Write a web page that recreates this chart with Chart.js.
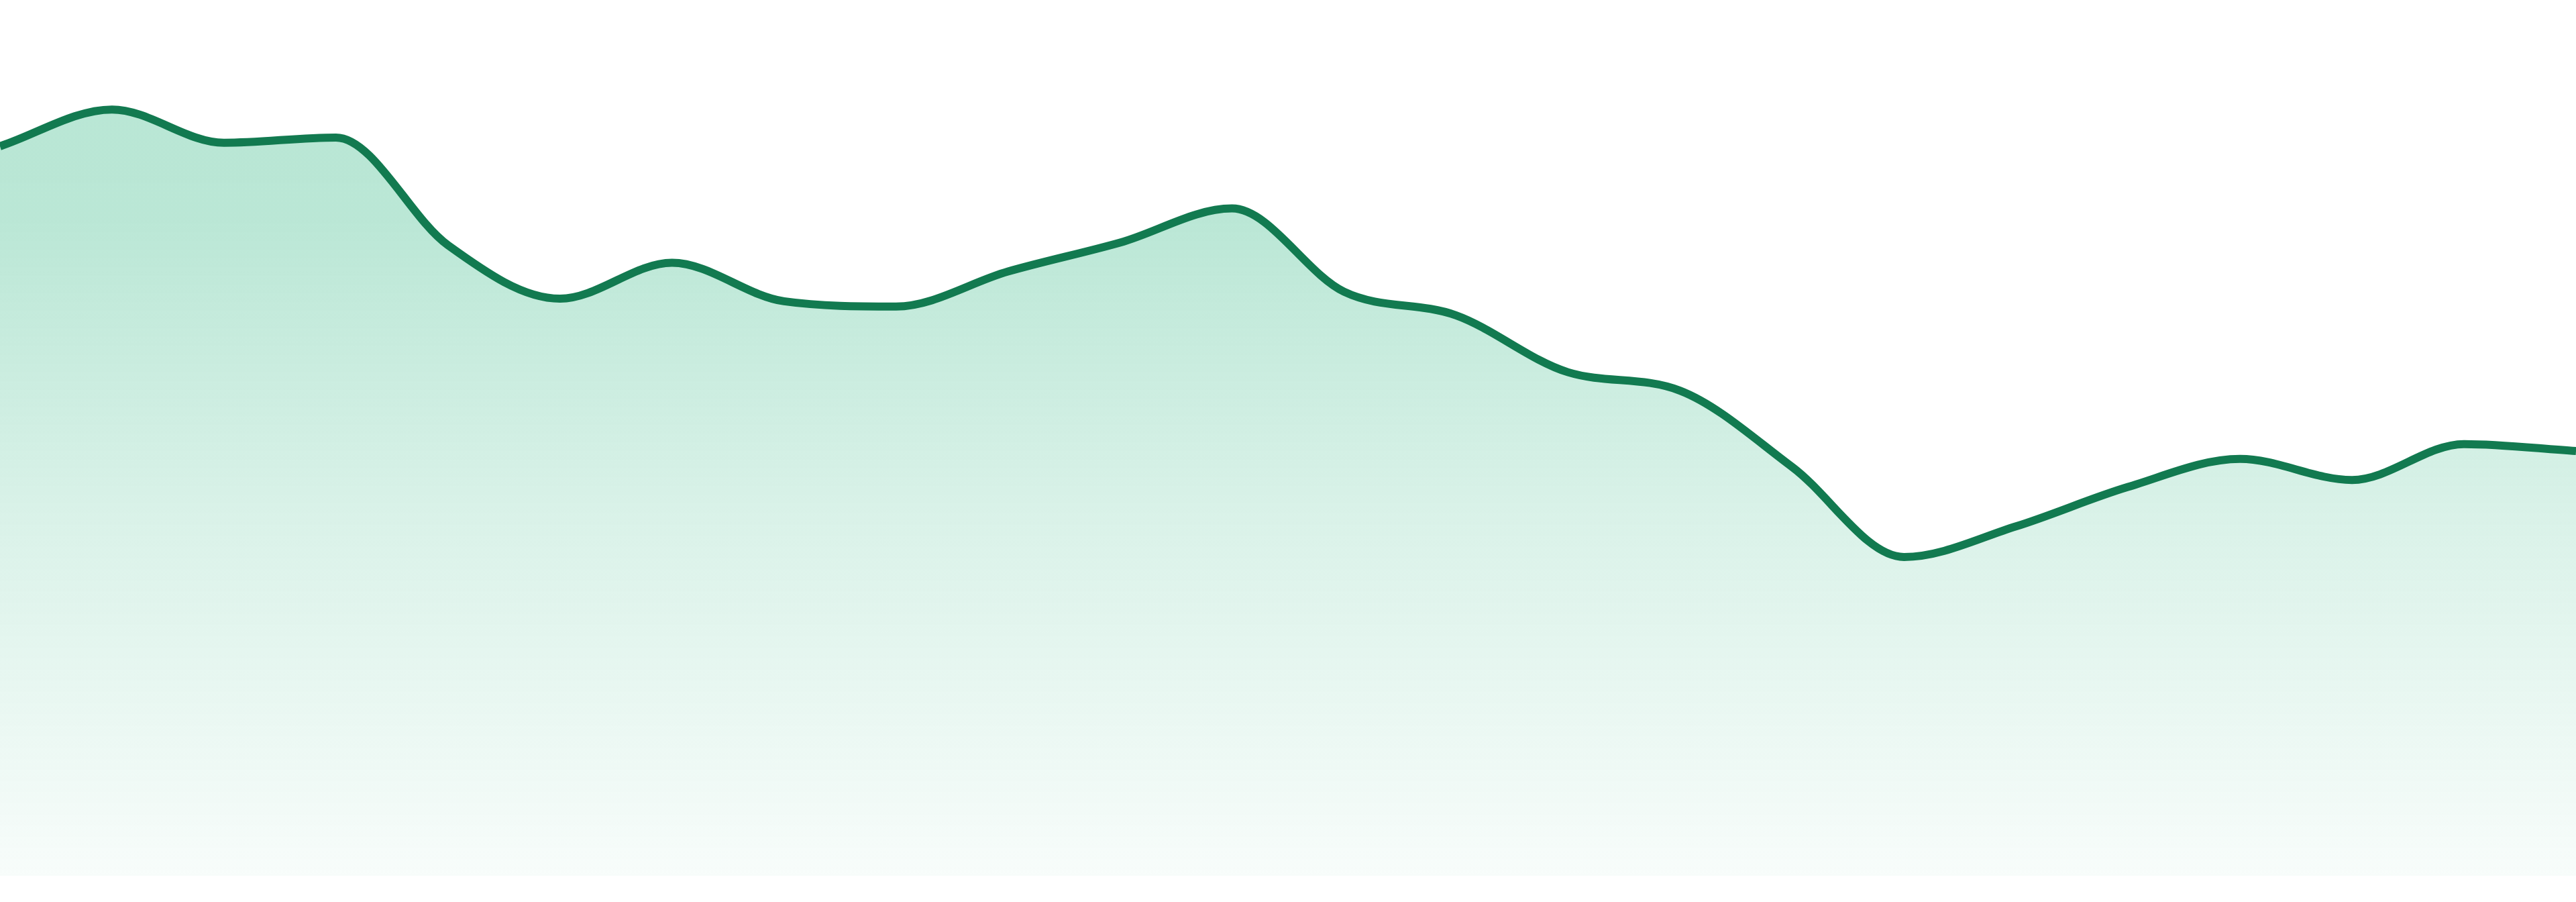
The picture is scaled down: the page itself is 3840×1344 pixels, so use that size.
<!DOCTYPE html>
<html>
<head>
<meta charset="utf-8">
<script src="https://cdn.jsdelivr.net/npm/chart.js@4"></script>
<style>
  html, body { margin: 0; padding: 0; background: #fff; }
  #wrap { width: 3840px; height: 1344px; position: relative; }
</style>
</head>
<body>
<div id="wrap"><canvas id="areaChart"></canvas></div>
<script>
// categories (hidden axis)
const labels = ['W1', 'W2', 'W3', 'W4', 'W5', 'W6', 'W7', 'W8', 'W9', 'W10', 'W11', 'W12',
                'W13', 'W14', 'W15', 'W16', 'W17', 'W18', 'W19', 'W20', 'W21', 'W22', 'W23', 'W24'];

// values (0..100 scale)
const values = [83.3, 87.5, 83.7, 84.3, 72.0, 65.9, 70.0, 65.6, 65.0, 69.0, 72.3, 76.2,
                66.7, 64.0, 57.5, 55.4, 46.7, 36.4, 39.9, 44.4, 47.6, 45.2, 49.3, 48.5];

const yMin = 0;
const yMax = 100;

function fillGradient(context) {
    const chart = context.chart;
    const area = chart.chartArea;
    if (!area) return 'rgba(18, 172, 112, 0.3)';
    const g = chart.ctx.createLinearGradient(0, area.top, 0, area.bottom);
    g.addColorStop(0, 'rgba(18, 172, 112, 0.30)');
    g.addColorStop(0.25, 'rgba(18, 172, 112, 0.29)');
    g.addColorStop(0.58, 'rgba(18, 172, 112, 0.16)');
    g.addColorStop(1, 'rgba(18, 172, 112, 0.03)');
    return g;
}

const ctx = document.getElementById('areaChart').getContext('2d');
new Chart(ctx, {
    type: 'line',
    data: {
        labels: labels,
        datasets: [{
            data: values,
            borderColor: '#127a50',
            borderWidth: 12,
            backgroundColor: fillGradient,
            fill: 'start',
            cubicInterpolationMode: 'monotone',
            pointRadius: 0,
            pointHoverRadius: 0
        }]
    },
    options: {
        responsive: true,
        maintainAspectRatio: false,
        animation: false,
        layout: { padding: { top: 0, bottom: 39, left: 0, right: 0 } },
        plugins: {
            legend: { display: false },
            tooltip: { enabled: false }
        },
        scales: {
            x: { display: false, offset: false },
            y: { display: false, min: yMin, max: yMax }
        }
    }
});
</script>
</body>
</html>
